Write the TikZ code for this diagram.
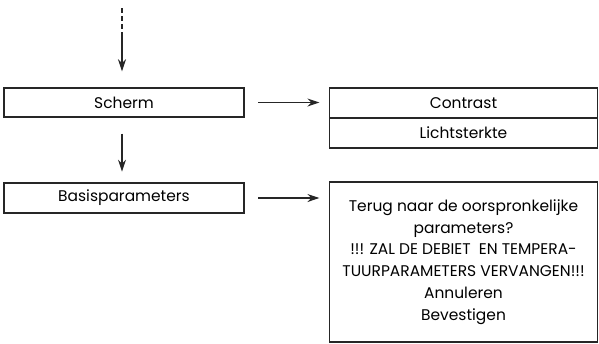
\documentclass[tikz,border=0pt]{standalone}
\usepackage{fontspec}
\setmainfont{Poppins}
\usetikzlibrary{arrows.meta,positioning}

\tikzset{
	menubox/.style={draw=black!85, line width=1.1pt, inner sep=0pt, align=center, font=\fontsize{11.6}{16.3}\selectfont},
	flow/.style={draw=black!85, line width=0.9pt, -{Stealth[length=9pt, width=6pt]}}
}

\begin{document}
\begin{tikzpicture}[x=0.75pt, y=-0.75pt]
				\useasboundingbox (0,0) rectangle (599,343);
				\node[menubox, minimum width=180pt, minimum height=21.75pt] (scherm) at (124,102.5) {Scherm};
				\node[menubox, minimum width=180pt, minimum height=22.5pt] (basis) at (124,198) {Basisparameters};
				\node[menubox, minimum width=201pt, minimum height=22.5pt] (contrast) at (463.5,103) {Contrast};
				\node[menubox, minimum width=201pt, minimum height=22.5pt, below=-1.1pt of contrast] (licht) {Lichtsterkte};
				\node[menubox, minimum width=201pt, minimum height=120pt] (reset) at (463.5,262) {Terug naar de oorspronkelijke\\ parameters?\\ !!! ZAL DE DEBIET\ \ EN TEMPERA-\\ TUURPARAMETERS VERVANGEN!!!\\ Annuleren\\ Bevestigen};
				\coordinate (start) at (122,8);
				\coordinate (mid) at (122,37);
				\draw[draw=black!85, line width=0.9pt, dash pattern=on 4pt off 2pt] (start) -- (mid);
				\draw[flow, shorten >=12pt] (mid) -- (mid |- scherm.north);
				\draw[flow, shorten <=12pt, shorten >=8pt] (scherm.south -| mid) -- (basis.north -| mid);
				\draw[flow, shorten <=10pt, shorten >=7pt] (scherm.east) -- (scherm.east -| contrast.west);
				\draw[flow, shorten <=10pt, shorten >=7pt] (basis.east) -- (basis.east -| reset.west);
			\end{tikzpicture}
\end{document}
